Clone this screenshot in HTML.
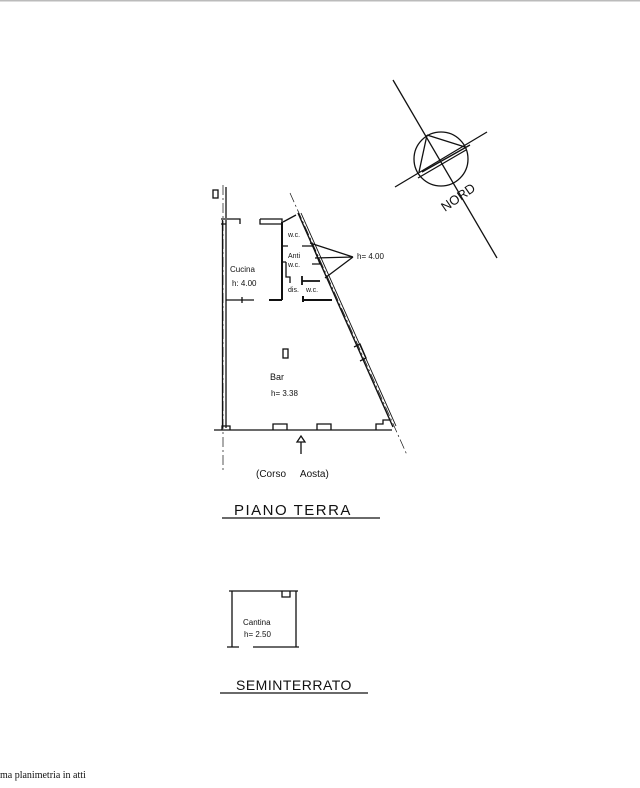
<!DOCTYPE html>
<html><head><meta charset="utf-8"><style>
html,body{margin:0;padding:0;background:#fff;width:640px;height:788px;overflow:hidden}
svg{display:block}
text{font-family:"Liberation Sans",sans-serif;fill:#111}
</style></head><body>
<svg width="640" height="788" viewBox="0 0 640 788" xmlns="http://www.w3.org/2000/svg">
<rect x="0" y="0" width="640" height="1.5" fill="#bbb"/>
<g stroke="#111" fill="none" stroke-width="1.3">
<!-- dashed guide lines -->
<line x1="223" y1="185" x2="223" y2="470" stroke-width="0.7" stroke-dasharray="10,3,2,3"/>
<line x1="290" y1="193" x2="407" y2="455" stroke-width="0.7" stroke-dasharray="10,3,2,3"/>
<!-- left wall -->
<line x1="222.5" y1="220" x2="222.5" y2="428"/>
<line x1="226" y1="220" x2="226" y2="428"/>
<line x1="226" y1="187" x2="226" y2="218"/>
<!-- top walls -->
<path d="M221 219 H240 V224 M221 224 H226"/>
<path d="M260 219 H282 V224 M260 219 V224 H282"/>
<path d="M283 222 L296 215"/>
<!-- slanted wall double -->
<line x1="298" y1="213" x2="393" y2="427" stroke-width="1.4"/>
<line x1="301" y1="213" x2="396" y2="426" stroke-width="0.9"/>
<path d="M354 347 L360 344 L366 358 L360 361"/>
<!-- bottom wall -->
<line x1="214" y1="430" x2="392" y2="430"/>
<path d="M222 430 V426 H230 V430"/>
<path d="M273 430 V424 H287 V430"/>
<path d="M317 430 V424 H331 V430"/>
<path d="M376 430 V424 H383 V420 H390"/>
<!-- partitions -->
<line x1="282" y1="222" x2="282" y2="300" stroke-width="2"/>
<path d="M226 300 H254 M242 297 V303"/>
<path d="M269 300 H282" stroke-width="2"/>
<path d="M303 300 H332" stroke-width="2"/>
<path d="M282 246 H288 M282 262 H286 M286 262 V277 H290 V283"/>
<path d="M302 246 H313 L320 264 H312"/>
<path d="M302 276 V281 H320 M302 285 V281" stroke-width="1.8"/>
<path d="M303 296 V302" stroke-width="2"/>
<!-- pillars -->
<rect x="213" y="190" width="5" height="8"/>
<rect x="283" y="349" width="5" height="9"/>
<!-- leaders -->
<path d="M310 243 L353 257 M315 258 L353 257 M325 278 L353 257"/>
<!-- arrow -->
<path d="M301 454 V442 H297 L301 436 L305 442 H301"/>
<!-- underlines -->
<line x1="222" y1="518" x2="380" y2="518"/>
<line x1="220" y1="693" x2="368" y2="693"/>
<!-- cantina -->
<path d="M229 591 H298 M232 591 V647 M296 591 V647 M227 647 H239 M253 647 H299 M282 591 V597 H290 V591"/>
<!-- north -->
<line x1="393" y1="80" x2="497" y2="258"/>
<line x1="395" y1="187" x2="487" y2="132"/>
<circle cx="441" cy="159" r="27"/>
<path d="M427 135 L465 147 M427 135 L419 172 M418 178 L466 150 M422 172 L470 145"/>
</g>
<text x="230" y="272" font-size="8">Cucina</text>
<text x="232" y="286" font-size="8">h: 4.00</text>
<text x="288" y="237" font-size="7">w.c.</text>
<text x="288" y="258" font-size="7">Anti</text>
<text x="288" y="267" font-size="7">w.c.</text>
<text x="288" y="292" font-size="7">dis.</text>
<text x="306" y="292" font-size="7">w.c.</text>
<text x="357" y="259" font-size="8">h= 4.00</text>
<text x="270" y="380" font-size="9">Bar</text>
<text x="271" y="396" font-size="8">h= 3.38</text>
<text x="256" y="477" font-size="10">(Corso&#160;&#160;&#160;&#160;&#160;Aosta)</text>
<text x="234" y="515" font-size="15" letter-spacing="1.5">PIANO TERRA</text>
<text x="243" y="625" font-size="8">Cantina</text>
<text x="244" y="637" font-size="8">h= 2.50</text>
<text x="236" y="690" font-size="14" letter-spacing="0.5">SEMINTERRATO</text>
<text x="445" y="212" font-size="13" transform="rotate(-35 445 212)">NORD</text>
<text x="0" y="778" font-size="10" style="font-family:'Liberation Serif',serif">ma planimetria in atti</text>
</svg>
</body></html>
